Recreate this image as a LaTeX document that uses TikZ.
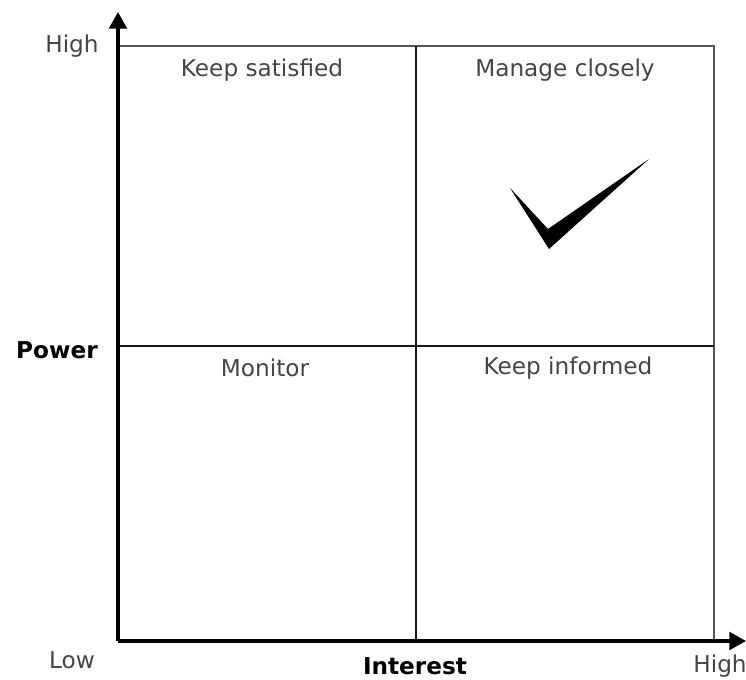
\documentclass[tikz,border=0pt]{standalone}
\usepackage{fontspec}
\setmainfont{DejaVu Sans}
\usetikzlibrary{arrows.meta}

\definecolor{labelgrey}{HTML}{454545}
\definecolor{linegrey}{HTML}{555555}

\tikzset{axe/.style = {line width=2pt, -{Triangle[length=9.5pt,width=10pt]}},
         cadre/.style = {line width=1.2pt, draw=linegrey},
         milieu/.style = {line width=1.5pt, draw=black!90},
         quart/.style = {text=labelgrey, font=\fontsize{13.2}{15}\selectfont},
         titre/.style = {text=black, font=\bfseries\fontsize{13.2}{15}\selectfont}
        }

\begin{document}
\begin{tikzpicture}[x=0.02cm, y=-0.02cm]
\useasboundingbox (0,0) rectangle (746,679);
\coordinate (o) at (118,641);
\coordinate (yh) at (118,12);
\coordinate (xh) at (746,641);
\coordinate (hg) at (118,46);
\coordinate (hd) at (714,46);
\coordinate (bd) at (714,641);
\coordinate (mh) at (416,46);
\coordinate (mb) at (416,641);
\coordinate (mg) at (118,346);
\coordinate (md) at (714,346);
% cadre et separations
\draw[cadre] (hg) -- (hd) -- (bd);
\draw[milieu] (mh) -- (mb);
\draw[milieu] (mg) -- (md);
% axes
\draw[axe] (o) -- (yh);
\draw[axe] (o) -- (xh);
% graduations
\node[quart] at (72,46) (haut) {High};
\node[quart] at (72,660) (bas) {Low};
\node[quart] at (720,666) (droite) {High};
\node[titre] at (57,350) (pouvoir) {Power};
\node[titre] at (415,666) (interet) {Interest};
% quadrants
\node[quart] at (262,70) (satisfait) {Keep satisfied};
\node[quart] at (565,70) (gerer) {Manage closely};
\node[quart] at (265,368) (surveiller) {Monitor};
\node[quart] at (568,368) (informer) {Keep informed};
% coche
\fill[black] (510,188) -- (548,229) -- (649,159) -- (549,249) -- cycle;
\end{tikzpicture}
\end{document}
